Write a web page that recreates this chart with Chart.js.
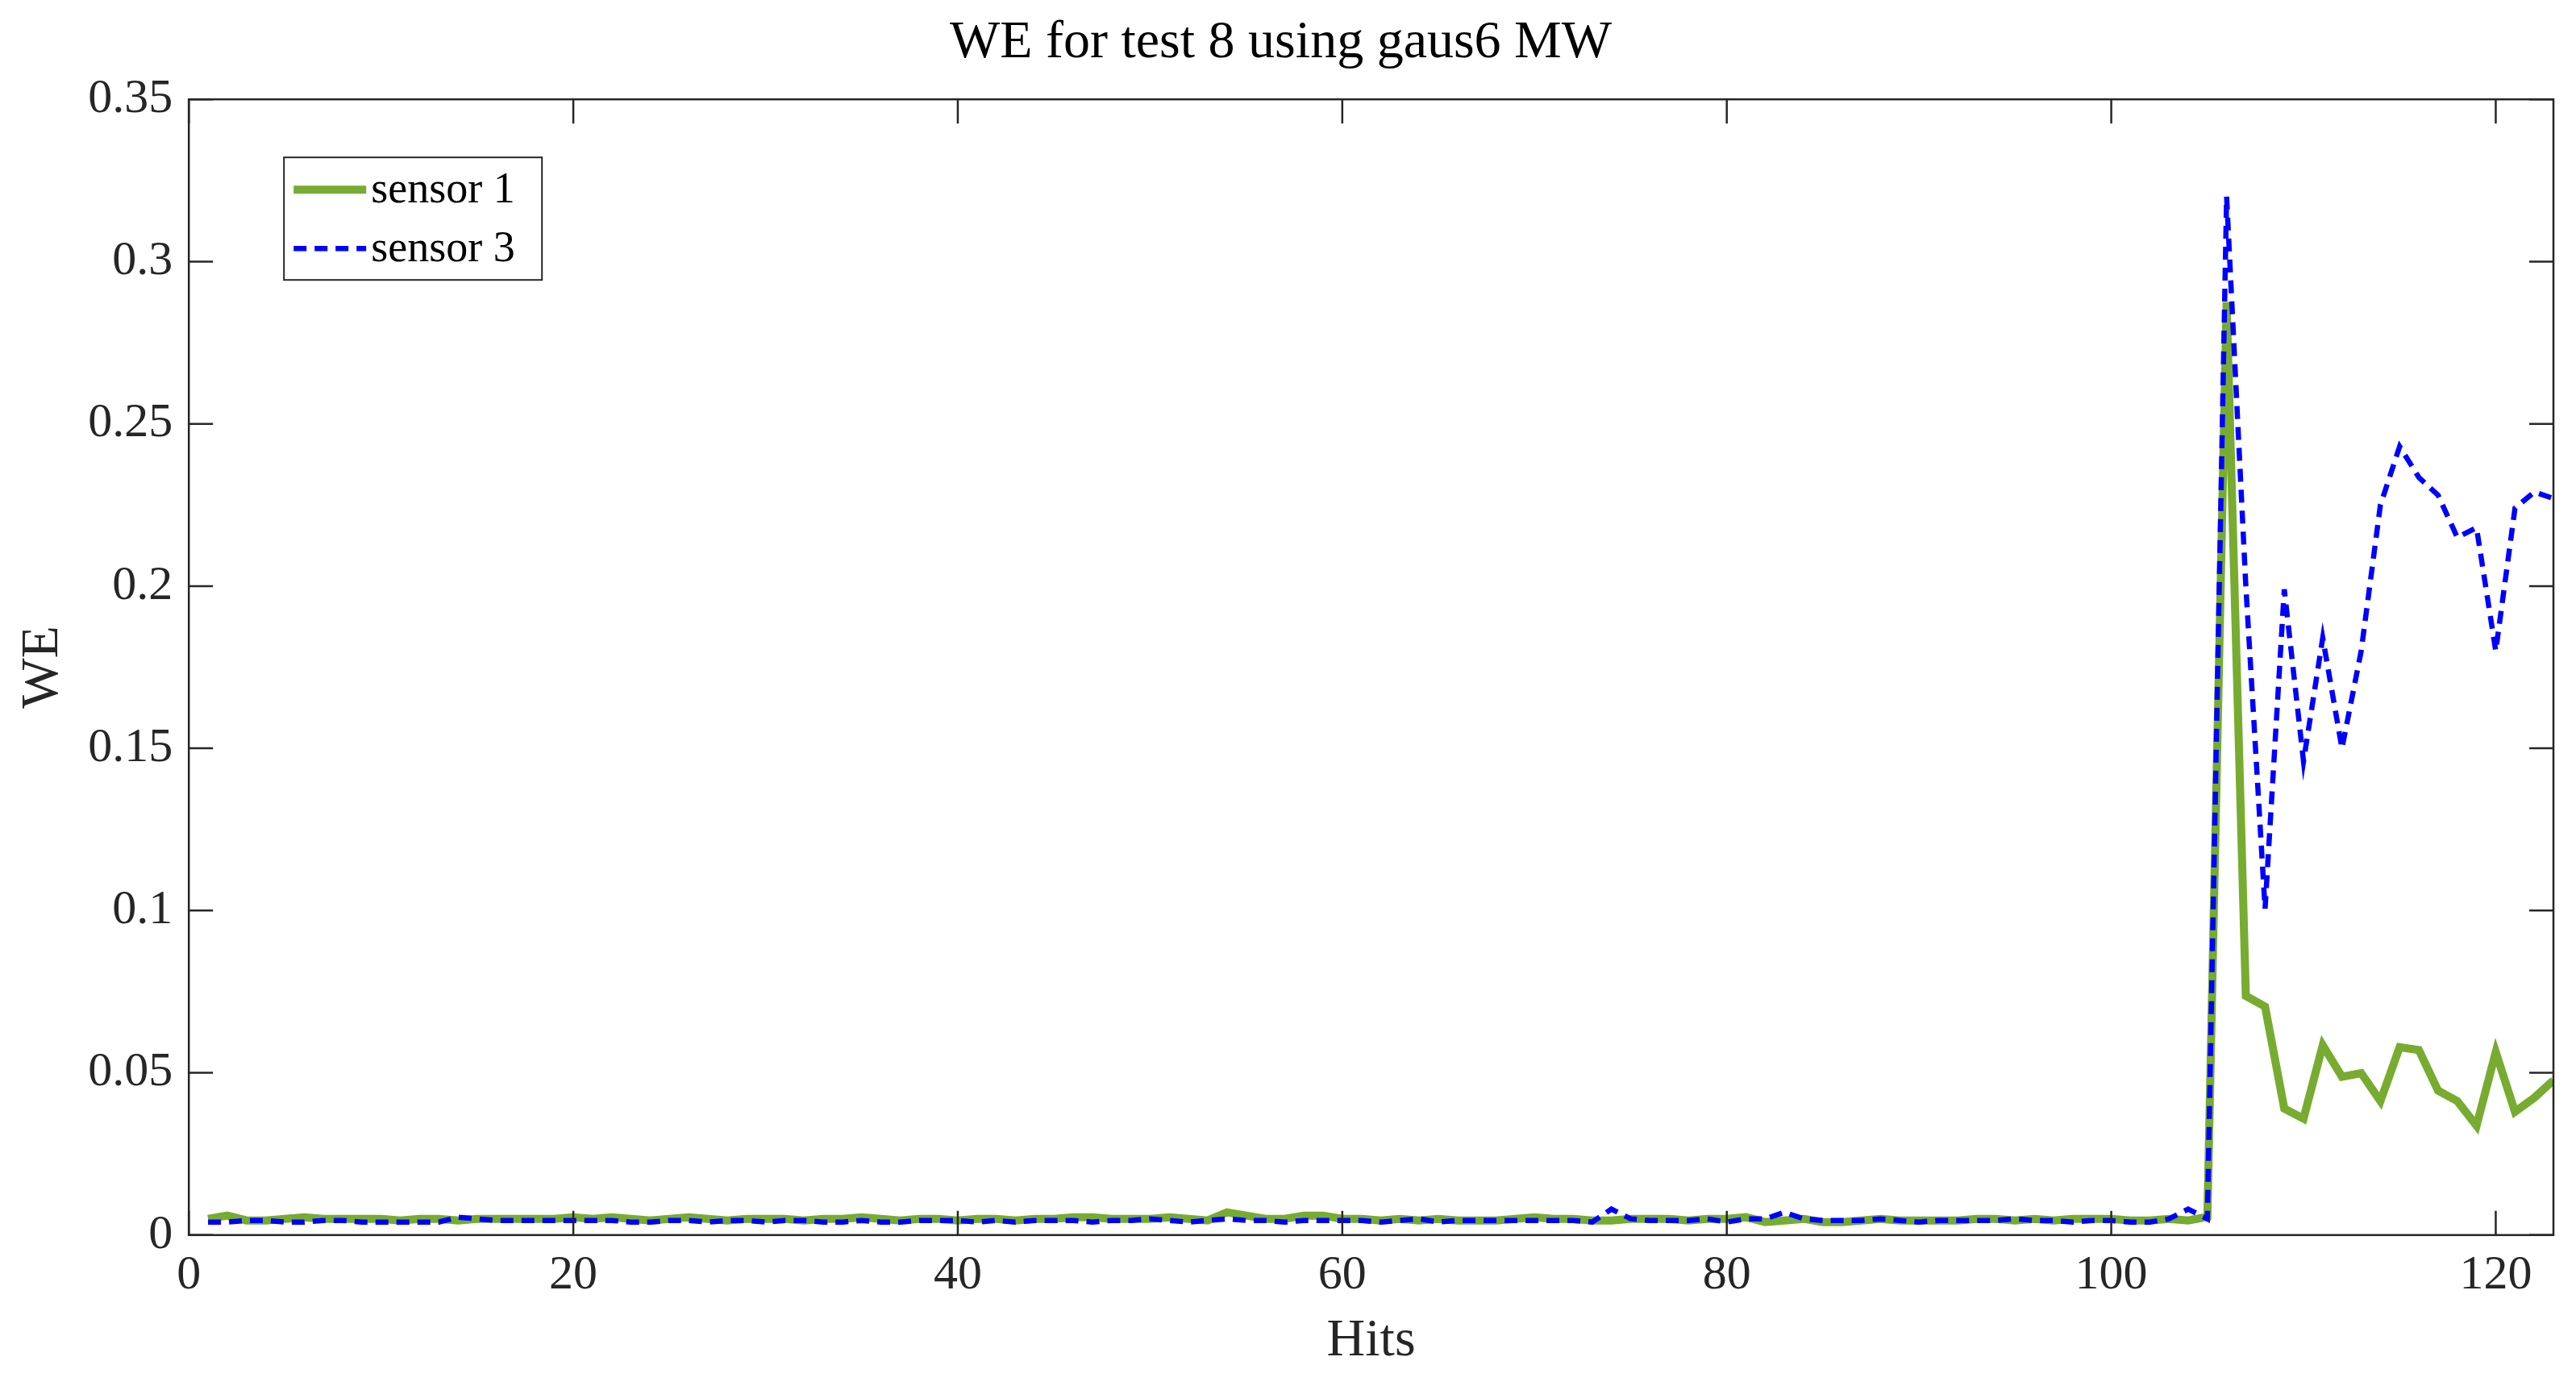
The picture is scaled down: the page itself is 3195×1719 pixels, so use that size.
<!DOCTYPE html>
<html><head><meta charset="utf-8">
<script src="https://cdn.jsdelivr.net/npm/chart.js@4.4.1/dist/chart.umd.min.js"></script>
<style>html,body{margin:0;padding:0;background:#fff}#w{width:3195px;height:1719px}</style>
</head><body><div id="w"><canvas id="c"></canvas></div>
<script>
const titleText = "WE for test 8 using gaus6 MW";
const xTicks = [0,20,40,60,80,100,120];
const yTicks = [0,0.05,0.1,0.15,0.2,0.25,0.3,0.35];
const sensor1 = [
0.005,0.006,0.0045,0.0045,0.005,0.0055,0.005,0.005,0.005,0.005,
0.0045,0.005,0.005,0.0045,0.005,0.005,0.005,0.005,0.005,0.0055,
0.005,0.0055,0.005,0.0045,0.005,0.0055,0.005,0.0045,0.005,0.005,
0.005,0.0045,0.005,0.005,0.0055,0.005,0.0045,0.005,0.005,0.0045,
0.005,0.005,0.0045,0.005,0.005,0.0055,0.0055,0.005,0.005,0.005,
0.0055,0.005,0.0045,0.007,0.006,0.005,0.005,0.006,0.006,0.005,
0.005,0.0045,0.005,0.0045,0.005,0.0045,0.0045,0.0045,0.005,0.0055,
0.005,0.005,0.0045,0.0045,0.005,0.005,0.005,0.0045,0.005,0.005,
0.0055,0.004,0.0045,0.005,0.004,0.004,0.0045,0.005,0.0045,0.0045,
0.0045,0.0045,0.005,0.005,0.0045,0.005,0.0045,0.005,0.005,0.005,
0.0045,0.0045,0.005,0.0045,0.0056,0.2875,0.0737,0.0704,0.039,0.0359,
0.0585,0.0488,0.0499,0.0413,0.0579,0.057,0.0445,0.0413,0.0337,0.0564,
0.038,0.0423,0.0477];
const sensor3 = [
0.004,0.004,0.0045,0.0045,0.004,0.004,0.0045,0.0045,0.004,0.004,
0.004,0.004,0.004,0.0055,0.005,0.0045,0.0045,0.0045,0.0045,0.0045,
0.0045,0.0045,0.004,0.004,0.0045,0.0045,0.004,0.0045,0.0045,0.004,
0.0045,0.0045,0.004,0.004,0.0045,0.004,0.004,0.0045,0.0045,0.0045,
0.004,0.0045,0.004,0.0045,0.0045,0.0045,0.004,0.0045,0.0045,0.005,
0.0045,0.004,0.0045,0.005,0.0045,0.0045,0.004,0.0045,0.0045,0.0045,
0.0045,0.004,0.0045,0.005,0.004,0.0045,0.0045,0.0045,0.0045,0.0045,
0.0045,0.0045,0.004,0.008,0.005,0.0045,0.0045,0.0045,0.005,0.004,
0.005,0.005,0.007,0.005,0.0045,0.0045,0.0045,0.005,0.0045,0.004,
0.0045,0.0045,0.0045,0.0045,0.005,0.0045,0.0045,0.004,0.0045,0.0045,
0.004,0.004,0.005,0.008,0.005,0.32,0.2,0.1006,0.199,0.146,
0.184,0.15,0.18,0.225,0.243,0.2335,0.228,0.215,0.218,0.18,
0.224,0.229,0.227];
const hits = sensor1.map((_, i) => i + 1);
const legendLabels = ["sensor 1","sensor 3"];
const FONT = "'Liberation Serif', 'Times New Roman', serif";

const frame = {
  id:'frame',
  afterDraw(ch){
    const {ctx, chartArea:a, scales:{x,y}} = ch;
    ctx.save();
    ctx.strokeStyle='#262626'; ctx.lineWidth=2.5;
    ctx.strokeRect(a.left,a.top,a.right-a.left,a.bottom-a.top);
    const L=30;
    ctx.beginPath();
    xTicks.forEach(v=>{const p=x.getPixelForValue(v);
      ctx.moveTo(p,a.bottom);ctx.lineTo(p,a.bottom-L);ctx.moveTo(p,a.top);ctx.lineTo(p,a.top+L);});
    yTicks.forEach(v=>{const p=y.getPixelForValue(v);
      ctx.moveTo(a.left,p);ctx.lineTo(a.left+L,p);ctx.moveTo(a.right,p);ctx.lineTo(a.right-L,p);});
    ctx.stroke();
    const bx=a.left+118, by=a.top+72, bw=320, bh=152;
    ctx.fillStyle='#fff'; ctx.fillRect(bx,by,bw,bh);
    ctx.lineWidth=2; ctx.strokeRect(bx,by,bw,bh);
    legendLabels.forEach((lab,i)=>{
      const d=ch.data.datasets.find(ds=>ds.label===lab);
      const yy=by+40+i*73;
      ctx.strokeStyle=d.borderColor; ctx.lineWidth=d.borderWidth;
      ctx.setLineDash(d.borderDash||[]);
      ctx.beginPath(); ctx.moveTo(bx+12,yy); ctx.lineTo(bx+102,yy); ctx.stroke();
      ctx.setLineDash([]);
      ctx.fillStyle='#000'; ctx.font='54px '+FONT; ctx.textBaseline='middle';
      ctx.fillText(lab,bx+108,yy+2);
    });
    ctx.restore();
  }
};

new Chart(document.getElementById('c'),{
  type:'line',
  data:{datasets:[
    {label:'sensor 3',data:hits.map((h,i)=>({x:h,y:sensor3[i]})),borderColor:'#0000FF',borderWidth:6.5,borderDash:[16,10],pointRadius:0,tension:0},
    {label:'sensor 1',data:hits.map((h,i)=>({x:h,y:sensor1[i]})),borderColor:'#77AC30',borderWidth:10,pointRadius:0,tension:0}
  ]},
  options:{
    responsive:true,maintainAspectRatio:false,animation:false,
    layout:{padding:{left:10,right:28,top:14,bottom:12}},
    plugins:{legend:{display:false},tooltip:{enabled:false},
      title:{display:true,text:titleText,color:'#000',font:{family:FONT,size:66,weight:'normal'},padding:{top:0,bottom:30}}},
    scales:{
      x:{type:'linear',min:0,max:123,afterBuildTicks:s=>{s.ticks=xTicks.map(v=>({value:v}));},
        grid:{display:false},border:{display:false},
        ticks:{color:'#262626',font:{family:FONT,size:60},padding:6,maxRotation:0},
        title:{display:true,text:'Hits',color:'#262626',font:{family:FONT,size:66},padding:{top:0}}},
      y:{min:0,max:0.35,afterBuildTicks:s=>{s.ticks=yTicks.map(v=>({value:v}));},
        grid:{display:false},border:{display:false},
        ticks:{color:'#262626',font:{family:FONT,size:60},padding:12,callback:v=>String(v)},
        title:{display:true,text:'WE',color:'#262626',font:{family:FONT,size:66},padding:{bottom:4}}}
    }
  },
  plugins:[frame]
});
</script></body></html>
